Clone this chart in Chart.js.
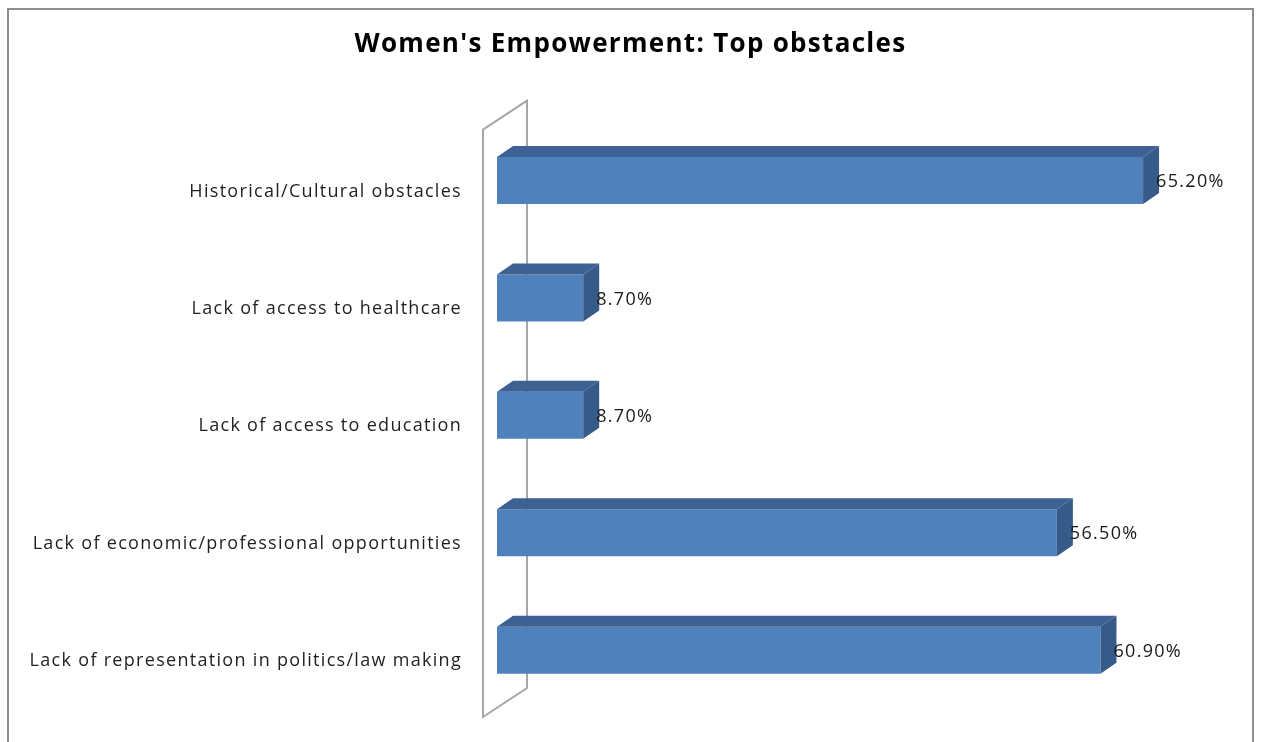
<!DOCTYPE html>
<html>
<head>
<meta charset="utf-8">
<title>Women's Empowerment: Top obstacles</title>
<script src="https://cdn.jsdelivr.net/npm/chart.js@4.4.0/dist/chart.umd.min.js"></script>
<style>
  html, body { margin: 0; padding: 0; background: #fff; }
  #wrap { position: relative; width: 1261px; height: 742px; }
</style>
</head>
<body>
<div id="wrap"><canvas id="obstacles-chart"></canvas></div>
<script>
const categories = [
  'Historical/Cultural obstacles',
  'Lack of access to healthcare',
  'Lack of access to education',
  'Lack of economic/professional opportunities',
  'Lack of representation in politics/law making'
];
const percentages = [65.2, 8.7, 8.7, 56.5, 60.9];

const front = '#4f81bd';
const topFace = '#3d6192';
const sideFace = '#375b88';
const depthX = 16, depthY = -11;

// outer frame of the chart box, plus the wider text spacing used everywhere
const frame = {
  id: 'frame',
  beforeDraw(chart) {
    const c = chart.ctx;
    c.letterSpacing = '1.3px';
    c.save();
    c.strokeStyle = '#8f8f8f';
    c.lineWidth = 2;
    c.beginPath();
    c.moveTo(8, 760);
    c.lineTo(8, 9);
    c.lineTo(1253, 9);
    c.lineTo(1253, 760);
    c.stroke();
    c.restore();
  }
};

// the thin 3d side wall behind the category axis
const wall = {
  id: 'wall',
  beforeDatasetsDraw(chart) {
    const a = chart.chartArea;
    const c = chart.ctx;
    const fx = a.left - 14, bx = a.left + 30;
    c.save();
    c.strokeStyle = '#a6a6a6';
    c.lineWidth = 2;
    c.beginPath();
    c.moveTo(fx, a.top + 8);
    c.lineTo(bx, a.top - 21);
    c.lineTo(bx, a.bottom - 21);
    c.lineTo(fx, a.bottom + 8);
    c.closePath();
    c.stroke();
    c.restore();
  }
};

// top and end faces for each bar, then the value labels
const bars3d = {
  id: 'bars3d',
  afterDatasetsDraw(chart) {
    const c = chart.ctx;
    const meta = chart.getDatasetMeta(0);
    c.save();
    meta.data.forEach((bar, i) => {
      const p = bar.getProps(['x', 'y', 'base', 'height'], true);
      const t = p.y - p.height / 2, b = p.y + p.height / 2;
      c.fillStyle = topFace;
      c.beginPath();
      c.moveTo(p.base, t);
      c.lineTo(p.base + depthX, t + depthY);
      c.lineTo(p.x + depthX, t + depthY);
      c.lineTo(p.x, t);
      c.closePath();
      c.fill();
      c.fillStyle = sideFace;
      c.beginPath();
      c.moveTo(p.x, t);
      c.lineTo(p.x + depthX, t + depthY);
      c.lineTo(p.x + depthX, b + depthY);
      c.lineTo(p.x, b);
      c.closePath();
      c.fill();

      c.fillStyle = '#1a1a1a';
      c.font = '18px "Open Sans"';
      c.textAlign = 'left';
      c.textBaseline = 'middle';
      c.fillText(percentages[i].toFixed(2) + '%', p.x + 13, p.y + 1.5);
    });
    c.restore();
  }
};

const ctx = document.getElementById('obstacles-chart').getContext('2d');
const chart = new Chart(ctx, {
  type: 'bar',
  data: {
    labels: categories,
    datasets: [{
      data: percentages,
      backgroundColor: front,
      borderWidth: 0,
      barPercentage: 0.8,
      categoryPercentage: 0.5
    }]
  },
  options: {
    indexAxis: 'y',
    responsive: true,
    maintainAspectRatio: false,
    animation: false,
    layout: {
      padding: { left: 0, right: 0, top: 0, bottom: 33 }
    },
    plugins: {
      legend: { display: false },
      tooltip: { enabled: false },
      title: {
        display: true,
        text: "Women's Empowerment: Top obstacles",
        color: '#000',
        font: { family: '"Open Sans"', size: 26, weight: 'bold' },
        padding: { top: 29, bottom: 61.5 }
      }
    },
    scales: {
      x: {
        display: false,
        min: 0,
        max: 77.1
      },
      y: {
        grid: { display: false, drawTicks: false },
        border: { display: false },
        ticks: {
          color: '#1f1f1f',
          padding: 35,
          labelOffset: 11,
          font: { family: '"Open Sans"', size: 18 }
        },
        afterFit(scale) {
          scale.width = 497;
          // tick padding should only push labels sideways
          scale.paddingTop = 0;
          scale.paddingBottom = 0;
        }
      }
    }
  },
  plugins: [frame, wall, bars3d]
});
</script>
</body>
</html>
